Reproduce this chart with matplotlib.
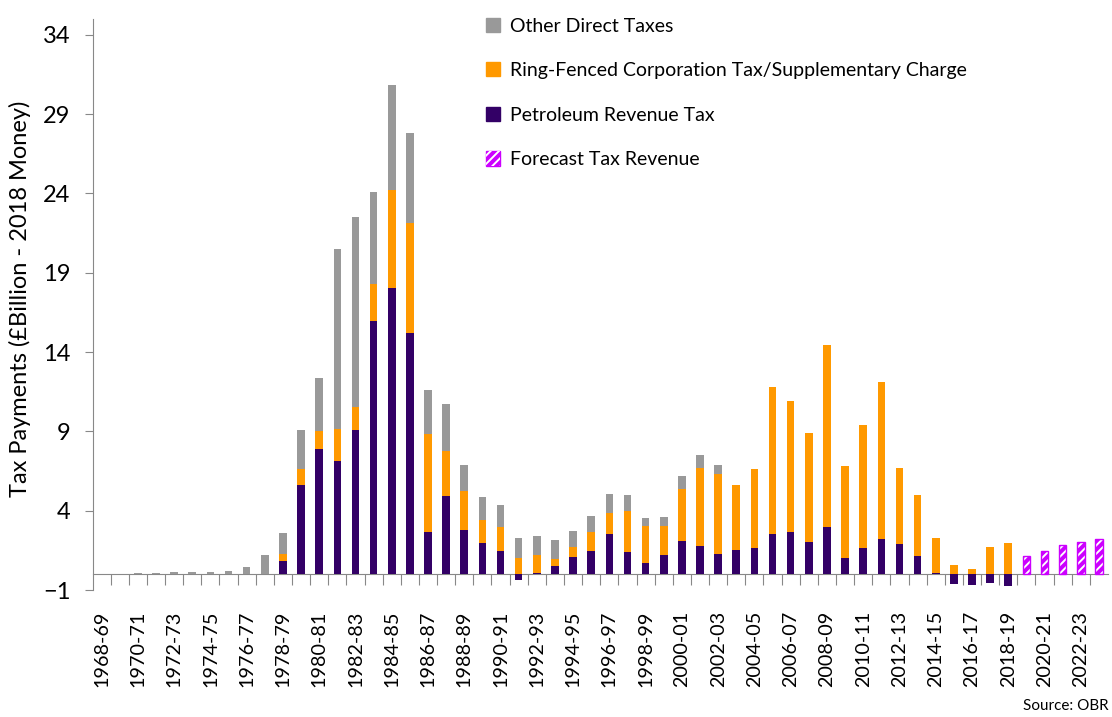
import matplotlib.pyplot as plt
from matplotlib.patches import Patch
from matplotlib.legend_handler import HandlerTuple
import numpy as np

# financial years 1968-69 .. 2023-24
years = [f"{y}-{(y + 1) % 100:02d}" for y in range(1968, 2024)]

# £bn, 2018 money
prt = [0, 0, 0, 0, 0, 0, 0, 0, 0, 0,
       0.82, 5.62, 7.92, 7.14, 9.10, 15.98, 18.04, 15.20, 2.65, 4.95,
       2.76, 1.98, 1.47, -0.36, 0.05, 0.53, 1.10, 1.47, 2.53, 1.38,
       0.70, 1.19, 2.11, 1.79, 1.28, 1.55, 1.66, 2.55, 2.64, 2.00,
       2.98, 1.04, 1.62, 2.23, 1.87, 1.17, 0.05, -0.60, -0.68, -0.55,
       -0.74, 0, 0, 0, 0, 0]
ring_fenced = [0, 0, 0, 0.03, 0, 0, 0, 0, 0.03, 0.03,
               0.44, 0.98, 1.13, 2.04, 1.45, 2.34, 6.15, 6.94, 6.21, 2.84,
               2.47, 1.41, 1.50, 1.05, 1.15, 0.43, 0.60, 1.17, 1.34, 2.62,
               2.32, 1.85, 3.29, 4.93, 5.02, 4.09, 4.98, 9.26, 8.25, 6.87,
               11.49, 5.77, 7.76, 9.90, 4.83, 3.83, 2.21, 0.55, 0.30, 1.74,
               1.96, 0, 0, 0, 0, 0]
other_direct = [0, 0.02, 0.05, 0.07, 0.15, 0.15, 0.15, 0.20, 0.43, 1.17,
                1.33, 2.48, 3.30, 11.34, 11.96, 5.80, 6.68, 5.65, 2.78, 2.91,
                1.67, 1.45, 1.39, 1.22, 1.20, 1.21, 1.02, 1.00, 1.17, 0.98,
                0.51, 0.58, 0.79, 0.77, 0.57, 0, 0, 0, 0, 0,
                0, 0, 0, 0, 0, 0, 0, 0, 0, 0,
                0, 0, 0, 0, 0, 0]
forecast = [0] * 51 + [1.13, 1.43, 1.83, 2.04, 2.21]

c_other = "#999999"
c_ring = "#ff9900"
c_prt = "#330066"
c_fc = "#cc00ff"

plt.rcParams['font.family'] = ['Lato', 'DejaVu Sans']
plt.rcParams['hatch.linewidth'] = 1.4

fig = plt.figure(figsize=(11.12, 7.17), dpi=100)
ax = fig.add_axes([0.0832, 0.1771, 0.9132, 0.7964])

x = np.arange(len(years))
w = 0.42
prt = np.array(prt)
ring_fenced = np.array(ring_fenced)
other_direct = np.array(other_direct)
forecast = np.array(forecast)

base = np.clip(prt, 0, None)
ax.bar(x, prt, w, color=c_prt, zorder=2)
ax.bar(x, ring_fenced, w, bottom=base, color=c_ring, zorder=2)
ax.bar(x, other_direct, w, bottom=base + ring_fenced, color=c_other, zorder=2)

fc = forecast > 0
ax.bar(x[fc], forecast[fc], w, color=c_fc, zorder=2)
ax.bar(x[fc], forecast[fc], w, facecolor="none", edgecolor="white", hatch="////",
       linewidth=0, zorder=3)
ax.bar(x[fc], forecast[fc], w, facecolor="none", edgecolor=c_fc, linewidth=1, zorder=4)

ax.set_xlim(-0.5, len(years) - 0.5)
ax.set_ylim(-1, 35)
ax.set_yticks(range(-1, 35, 5))
ax.tick_params(axis='y', labelsize=17, length=6, color="#888888", pad=10)
ax.set_ylabel("Tax Payments (£Billion - 2018 Money)", fontsize=17)
ax.yaxis.set_label_coords(-0.061, 0.51)

ax.set_xticks(x[::2])
ax.set_xticklabels(years[::2], rotation=90, fontsize=14.2)
ax.tick_params(axis='x', length=0, pad=15)

for s in ['top', 'right', 'bottom']:
    ax.spines[s].set_visible(False)
ax.spines['left'].set_color("#888888")

# zero line with category boundary ticks
zero = ax.secondary_xaxis(1 / 36)
zero.set_xticks(np.arange(0.5, len(years) - 0.5, 1))
zero.set_xticklabels([])
zero.tick_params(axis='x', direction='out', length=8, color="#888888")
zero.spines['bottom'].set_color("#888888")

handles = [Patch(color=c_other), Patch(color=c_ring), Patch(color=c_prt),
           (Patch(facecolor=c_fc, edgecolor=c_fc),
            Patch(facecolor="none", edgecolor="white", hatch="////", linewidth=0))]
labels = ["Other Direct Taxes", "Ring-Fenced Corporation Tax/Supplementary Charge",
          "Petroleum Revenue Tax", "Forecast Tax Revenue"]
fig.legend(handles, labels, loc='upper left', bbox_to_anchor=(0.421, 1.0),
           frameon=False, fontsize=14, labelspacing=1.42, handlelength=0.75,
           handleheight=0.75, handletextpad=0.5,
           handler_map={tuple: HandlerTuple(ndivide=1, pad=0)})

fig.text(0.997, 0.01, "Source: OBR", fontsize=11, ha='right')

fig.savefig("out.png", dpi=100)
